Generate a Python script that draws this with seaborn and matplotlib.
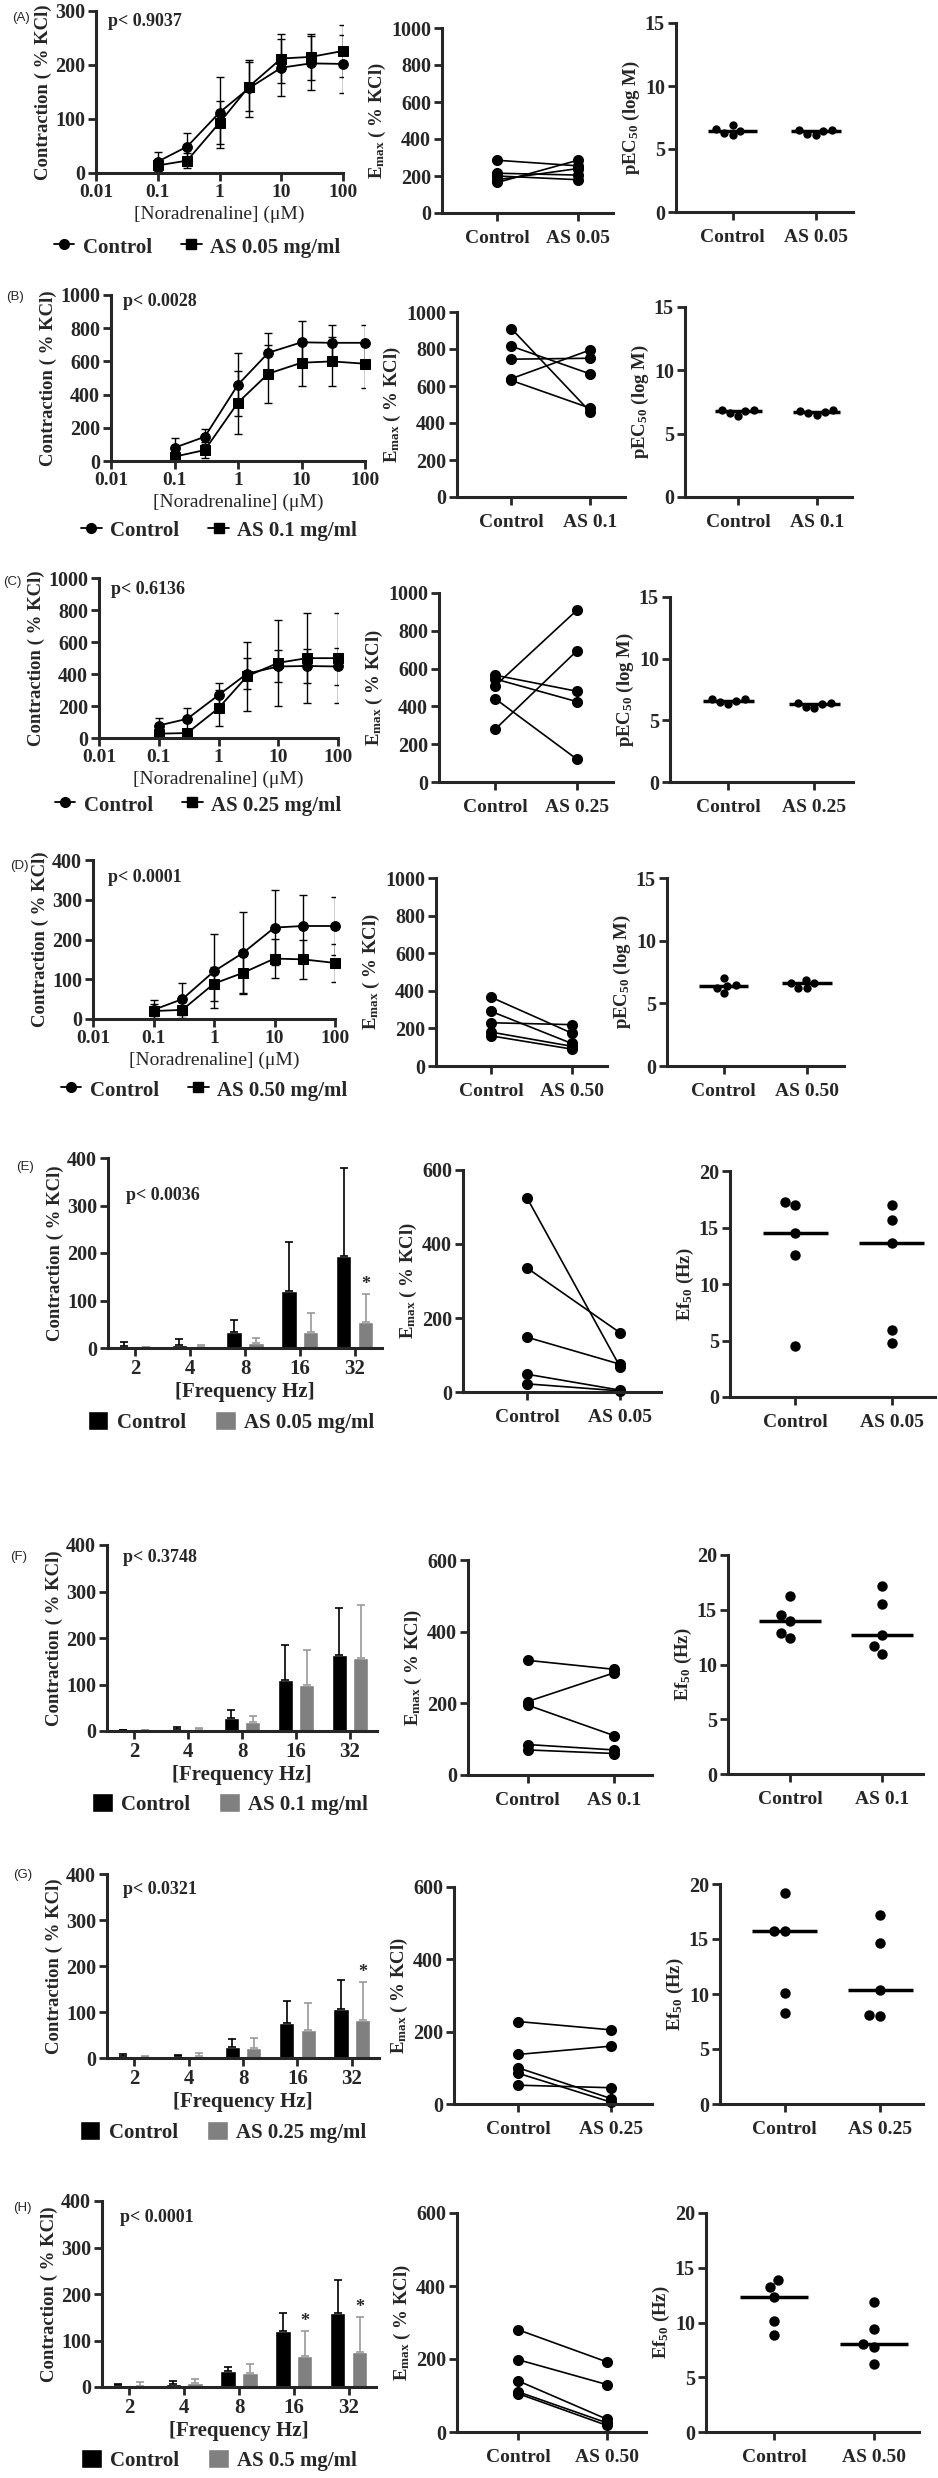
import numpy as np
import pandas as pd
import matplotlib.pyplot as plt
import seaborn as sns
from matplotlib.lines import Line2D
from matplotlib.patches import Patch
from matplotlib.ticker import NullLocator

sns.set_style("ticks")
plt.rcParams['font.family'] = ['Liberation Serif', 'DejaVu Sans']
plt.rcParams['font.weight'] = 'bold'
plt.rcParams['axes.labelweight'] = 'bold'
plt.rcParams['mathtext.fontset'] = 'custom'
plt.rcParams['mathtext.rm'] = 'Liberation Serif:bold'
plt.rcParams['mathtext.bf'] = 'Liberation Serif:bold'
plt.rcParams['mathtext.it'] = 'Liberation Serif:bold'

# ---- data: noradrenaline concentration-response (A-D) ----
conc = [0.1, 0.3, 1, 3, 10, 30, 100]

a_ctrl = [21, 49, 112, 157, 195, 203, 202]
a_ctrl_sd = [17, 25, 65, 53, 53, 50, 53]
a_as = [14, 23, 93, 160, 212, 215, 226]
a_as_sd = [10, 14, 40, 45, 45, 43, 48]

b_ctrl = [80, 146, 460, 652, 715, 712, 712]
b_ctrl_sd = [60, 46, 190, 118, 127, 110, 110]
b_as = [26, 66, 352, 526, 592, 600, 586]
b_as_sd = [20, 50, 190, 175, 140, 150, 145]

c_ctrl = [78, 120, 268, 402, 447, 450, 447]
c_ctrl_sd = [45, 70, 78, 95, 100, 105, 115]
c_as = [27, 31, 186, 386, 470, 499, 499]
c_as_sd = [15, 20, 114, 216, 270, 280, 282]

d_ctrl = [23, 50, 120, 166, 230, 234, 234]
d_ctrl_sd = [25, 40, 93, 104, 95, 78, 73]
d_as = [20, 23, 89, 116, 152, 150, 141]
d_as_sd = [18, 20, 43, 50, 50, 50, 48]

# Emax paired values (control -> AS)
a_emax_ctrl = [285, 215, 200, 180, 165]
a_emax_as = [255, 205, 180, 240, 285]
b_emax_ctrl = [910, 815, 745, 640, 630]
b_emax_as = [460, 665, 750, 795, 480]
c_emax_ctrl = [565, 545, 510, 440, 280]
c_emax_as = [480, 425, 910, 120, 695]
d_emax_ctrl = [365, 290, 230, 180, 160]
d_emax_as = [175, 120, 220, 105, 90]

# pEC50 values
a_pec_ctrl = [6.9, 6.1, 6.6, 6.3, 6.4]
a_pec_as = [6.2, 6.5, 6.4, 6.5, 6.1]
b_pec_ctrl = [6.6, 6.9, 6.9, 6.8, 6.4]
b_pec_as = [6.6, 6.9, 6.7, 6.8, 6.5]
c_pec_ctrl = [6.5, 6.7, 6.6, 6.7, 6.3]
c_pec_as = [6.1, 6.4, 6.4, 6.3, 6.0]
d_pec_ctrl = [5.8, 6.5, 7.0, 6.2, 6.4]
d_pec_as = [6.2, 6.9, 6.6, 6.2, 6.6]

# ---- data: electrical field stimulation (E-H) ----
freq = ['2', '4', '8', '16', '32']

e_ctrl = [4, 6, 34, 120, 193]
e_ctrl_sd = [9, 12, 26, 103, 187]
e_as = [1.5, 4, 11, 34, 54]
e_as_sd = [1, 2, 11, 40, 60]
e_stars = [4]

f_ctrl = [1.5, 5, 27, 109, 164]
f_ctrl_sd = [1.5, 3, 18, 77, 101]
f_as = [1.5, 4, 20, 100, 157]
f_as_sd = [1.5, 2, 13, 74, 114]
f_stars = []

g_ctrl = [4, 3.6, 24, 76, 107]
g_ctrl_sd = [5, 2.5, 17, 47, 63]
g_as = [2, 5, 21, 61, 82]
g_as_sd = [2, 6, 22, 58, 84]
g_stars = [4]

h_ctrl = [3.6, 7, 34, 121, 160]
h_ctrl_sd = [2.5, 6, 8, 39, 71]
h_as = [2, 9, 30, 67, 76]
h_as_sd = [8, 9, 20, 54, 74]
h_stars = [3, 4]

e_emax_ctrl = [524, 335, 148, 48, 22]
e_emax_as = [68, 160, 75, 5, 3]
f_emax_ctrl = [320, 205, 195, 85, 70]
f_emax_as = [295, 285, 110, 70, 60]
g_emax_ctrl = [228, 137, 100, 85, 52]
g_emax_as = [205, 160, 15, 5, 45]
h_emax_ctrl = [280, 198, 140, 110, 105]
h_emax_as = [192, 130, 35, 25, 18]

e_ef_ctrl = [4.5, 12.6, 14.5, 17.0, 17.3]
e_ef_as = [4.8, 5.9, 13.6, 15.7, 17.0]
f_ef_ctrl = [12.4, 12.9, 14.0, 14.5, 16.3]
f_ef_as = [11.0, 11.7, 12.7, 15.5, 17.2]
g_ef_ctrl = [8.3, 10.1, 15.7, 15.7, 19.2]
g_ef_as = [8.0, 8.1, 10.4, 14.6, 17.2]
h_ef_ctrl = [8.9, 10.1, 12.3, 13.2, 13.9]
h_ef_as = [6.2, 7.8, 8.0, 9.4, 11.9]

p_values = ['p< 0.9037', 'p< 0.0028', 'p< 0.6136', 'p< 0.0001',
            'p< 0.0036', 'p< 0.3748', 'p< 0.0321', 'p< 0.0001']
doses_short = ['AS 0.05', 'AS 0.1', 'AS 0.25', 'AS 0.50',
               'AS 0.05', 'AS 0.1', 'AS 0.25', 'AS 0.50']
doses_long = ['AS 0.05 mg/ml', 'AS 0.1 mg/ml', 'AS 0.25 mg/ml', 'AS 0.50 mg/ml',
              'AS 0.05 mg/ml', 'AS 0.1 mg/ml', 'AS 0.25 mg/ml', 'AS 0.5 mg/ml']

# ---- layout in pixels: (x0, x1, y_top, y_bottom) ----
W, H = 938, 2478
layout = [
    dict(L=(96, 343, 11, 173), M=(442, 613, 28, 213), R=(676, 853, 23, 212)),
    dict(L=(111, 365, 295, 461), M=(457, 625, 312, 497), R=(685, 852, 307, 497)),
    dict(L=(99, 338, 578, 738), M=(439, 613, 593, 782), R=(670, 853, 597, 782)),
    dict(L=(93, 335, 860, 1019), M=(436, 607, 878, 1066), R=(667, 844, 878, 1066)),
    dict(L=(108, 382, 1158, 1348), M=(463, 661, 1170, 1392), R=(730, 935, 1171, 1397)),
    dict(L=(107, 377, 1545, 1731), M=(468, 652, 1560, 1775), R=(728, 923, 1555, 1774)),
    dict(L=(107, 379, 1874, 2058), M=(454, 652, 1887, 2104), R=(720, 923, 1884, 2104)),
    dict(L=(102, 376, 2201, 2387), M=(457, 646, 2213, 2432), R=(706, 919, 2213, 2432)),
]
tag_pos = [(12, 18), (6, 297), (3, 582), (10, 866), (16, 1167), (10, 1557), (13, 1875), (13, 2208)]
p_pos = [(108, 22), (123, 302), (111, 590), (108, 877), (126, 1195), (123, 1558), (123, 1890), (120, 2217)]
legend_pos = [(197, 247), (219, 530), (198, 805), (204, 1090), (231, 1422), (230, 1804), (223, 2132), (219, 2460)]

fig = plt.figure(figsize=(W / 100, H / 100), dpi=100)


def px_axes(box):
    x0, x1, yt, yb = box
    return fig.add_axes([x0 / W, 1 - yb / H, (x1 - x0) / W, (yb - yt) / H])


def style(ax):
    sns.despine(ax=ax)
    for s in ['left', 'bottom']:
        ax.spines[s].set_linewidth(2.2)
    ax.tick_params(width=2, length=6, labelsize=14, pad=2)
    ax.tick_params(axis='y', labelsize=14.5)


def dose_panel(ax, ctrl, ctrl_sd, treat, treat_sd, ymax, ystep):
    ax.set_xscale('log')
    ax.errorbar(conc, ctrl, yerr=ctrl_sd, fmt='none', ecolor='black', elinewidth=1, capsize=3, capthick=1)
    ax.errorbar(conc, treat, yerr=treat_sd, fmt='none', ecolor='black', elinewidth=1, capsize=3, capthick=1)
    sns.lineplot(x=conc, y=ctrl, marker='o', color='black', markersize=7, mec='black', lw=1.3, ax=ax, clip_on=False)
    sns.lineplot(x=conc, y=treat, marker='s', color='black', markersize=6.5, mec='black', lw=1.3, ax=ax, clip_on=False)
    ax.set_xlim(0.01, 100)
    ax.set_xticks([0.01, 0.1, 1, 10, 100])
    ax.set_xticklabels(['0.01', '0.1', '1', '10', '100'])
    ax.xaxis.set_minor_locator(NullLocator())
    ax.set_ylim(0, ymax)
    ax.set_yticks(range(0, ymax + 1, ystep))
    ax.set_xlabel('[Noradrenaline] (μM)', fontsize=14, fontweight='normal', labelpad=3)
    ax.set_ylabel('Contraction ( % KCl)', fontsize=13.5, labelpad=2)
    style(ax)


def bar_panel(ax, ctrl, ctrl_sd, treat, treat_sd, stars, tname):
    df = pd.DataFrame({'freq': freq * 2,
                       'group': ['Control'] * 5 + [tname] * 5,
                       'value': ctrl + treat})
    sns.barplot(data=df, x='freq', y='value', hue='group', order=freq,
                hue_order=['Control', tname], palette=['black', '#808080'],
                gap=0.3, errorbar=None, legend=False, saturation=1, ax=ax)
    pos = np.arange(len(freq))
    ax.errorbar(pos - 0.2, ctrl, yerr=[np.zeros(5), ctrl_sd], fmt='none', ecolor='black',
                elinewidth=1.2, capsize=3, capthick=1.2)
    ax.errorbar(pos + 0.2, treat, yerr=[np.zeros(5), treat_sd], fmt='none', ecolor='#9a9a9a',
                elinewidth=1.2, capsize=3, capthick=1.2)
    for i in stars:
        ax.text(i + 0.2, treat[i] + treat_sd[i] + 2, '*', ha='center', va='bottom', fontsize=13)
    ax.set_xlim(-0.5, 4.5)
    ax.set_ylim(0, 400)
    ax.set_yticks(range(0, 401, 100))
    ax.set_xlabel('[Frequency Hz]', fontsize=15, labelpad=2)
    ax.set_ylabel('Contraction ( % KCl)', fontsize=13.5, labelpad=2)
    style(ax)
    ax.tick_params(axis='x', labelsize=15)


def emax_panel(ax, ctrl, treat, ymax, cats):
    n = len(ctrl)
    df = pd.DataFrame({'subject': list(range(n)) * 2,
                       'pos': [0] * n + [1] * n,
                       'value': ctrl + treat})
    sns.lineplot(data=df, x='pos', y='value', units='subject', estimator=None, sort=False,
                 color='black', marker='o', markersize=8, mew=0, lw=1.2, ax=ax, clip_on=False)
    ax.set_xlim(-0.69, 1.44)
    ax.set_xticks([0, 1])
    ax.set_xticklabels(cats)
    ax.set_ylim(0, ymax)
    ax.set_yticks(range(0, ymax + 1, 200))
    ax.set_xlabel('')
    ax.set_ylabel('E$_{max}$ ( % KCl)', fontsize=13.5, labelpad=2)
    style(ax)
    ax.tick_params(axis='x', labelsize=14, pad=6)


def dot_panel(ax, ctrl, treat, ymax, cats, ylabel, size, half):
    n = len(ctrl)
    df = pd.DataFrame({'group': [cats[0]] * n + [cats[1]] * n, 'value': ctrl + treat})
    sns.swarmplot(data=df, x='group', y='value', order=cats, color='black', size=size, ax=ax, clip_on=False)
    for i, vals in enumerate([ctrl, treat]):
        ax.hlines(np.median(vals), i - half, i + half, color='black', lw=2.5)
    ax.set_xlim(-0.68, 1.45)
    ax.set_ylim(0, ymax)
    ax.set_yticks(range(0, ymax + 1, 5))
    ax.set_xlabel('')
    ax.set_ylabel(ylabel, fontsize=13.5, labelpad=2)
    style(ax)
    ax.tick_params(axis='x', labelsize=14, pad=6)


dose_data = [
    (a_ctrl, a_ctrl_sd, a_as, a_as_sd, 300, 100, a_emax_ctrl, a_emax_as, a_pec_ctrl, a_pec_as),
    (b_ctrl, b_ctrl_sd, b_as, b_as_sd, 1000, 200, b_emax_ctrl, b_emax_as, b_pec_ctrl, b_pec_as),
    (c_ctrl, c_ctrl_sd, c_as, c_as_sd, 1000, 200, c_emax_ctrl, c_emax_as, c_pec_ctrl, c_pec_as),
    (d_ctrl, d_ctrl_sd, d_as, d_as_sd, 400, 100, d_emax_ctrl, d_emax_as, d_pec_ctrl, d_pec_as),
]
freq_data = [
    (e_ctrl, e_ctrl_sd, e_as, e_as_sd, e_stars, e_emax_ctrl, e_emax_as, e_ef_ctrl, e_ef_as),
    (f_ctrl, f_ctrl_sd, f_as, f_as_sd, f_stars, f_emax_ctrl, f_emax_as, f_ef_ctrl, f_ef_as),
    (g_ctrl, g_ctrl_sd, g_as, g_as_sd, g_stars, g_emax_ctrl, g_emax_as, g_ef_ctrl, g_ef_as),
    (h_ctrl, h_ctrl_sd, h_as, h_as_sd, h_stars, h_emax_ctrl, h_emax_as, h_ef_ctrl, h_ef_as),
]

for r in range(8):
    lay = layout[r]
    cats = ['Control', doses_short[r]]
    axL, axM, axR = px_axes(lay['L']), px_axes(lay['M']), px_axes(lay['R'])
    if r < 4:
        ctrl, ctrl_sd, trt, trt_sd, ymax, ystep, em_c, em_t, pc, pt = dose_data[r]
        dose_panel(axL, ctrl, ctrl_sd, trt, trt_sd, ymax, ystep)
        emax_panel(axM, em_c, em_t, 1000, cats)
        dot_panel(axR, pc, pt, 15, cats, 'pEC$_{50}$ (log M)', 6, 0.3)
        handles = [Line2D([], [], color='black', marker='o', ms=7, lw=1.3),
                   Line2D([], [], color='black', marker='s', ms=6.5, lw=1.3)]
    else:
        ctrl, ctrl_sd, trt, trt_sd, stars, em_c, em_t, ec, et = freq_data[r - 4]
        bar_panel(axL, ctrl, ctrl_sd, trt, trt_sd, stars, doses_long[r])
        emax_panel(axM, em_c, em_t, 600, cats)
        dot_panel(axR, ec, et, 20, cats, 'Ef$_{50}$ (Hz)', 7.5, 0.34)
        handles = [Patch(facecolor='black'), Patch(facecolor='#808080')]

    tx, ty = tag_pos[r]
    fig.text(tx / W, 1 - ty / H, '(' + 'ABCDEFGH'[r] + ')', fontsize=9.5,
             family='Liberation Sans', fontweight='normal', ha='left', va='center')
    px_, py_ = p_pos[r]
    fig.text(px_ / W, 1 - py_ / H, p_values[r], fontsize=13, ha='left', va='center')
    lx, ly = legend_pos[r]
    fig.legend(handles, ['Control', doses_long[r]], loc='center',
               bbox_to_anchor=(lx / W, 1 - ly / H), ncol=2, frameon=False,
               fontsize=15, handlelength=1.0, handleheight=1.0,
               columnspacing=1.4, handletextpad=0.4)

fig.savefig('out.png', dpi=100)
